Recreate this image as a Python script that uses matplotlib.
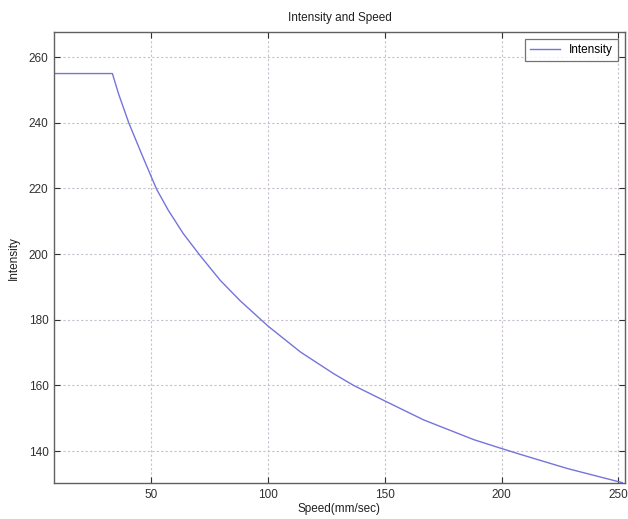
import matplotlib
matplotlib.use("Agg")
import matplotlib.pyplot as plt

plt.rcParams['font.family'] = ['Liberation Sans', 'DejaVu Sans']

# Data
speed = [8.4, 33.4, 36.0, 40.4, 45.8, 49.9, 52.3, 57.3, 63.7, 70.9, 79.6, 88.1,
         100.0, 113.9, 128.1, 136.7, 150.0, 166.7, 188.1, 200.0, 208.1, 228.2, 251.7]
intensity = [255.0, 255.0, 248.9, 240.0, 230.7, 223.8, 219.8, 213.4, 206.3, 199.6, 192.0, 185.8,
             178.1, 170.2, 163.6, 160.0, 155.3, 149.5, 143.5, 140.8, 139.0, 134.7, 130.4]

xticks = [50, 100, 150, 200, 250]
yticks = [140, 160, 180, 200, 220, 240, 260]

fig = plt.figure(figsize=(6.28, 5.19), dpi=100)
ax = fig.add_axes([0.086, 0.0694, 0.909, 0.8686])

ax.plot(speed, intensity, color='#7474dc', linewidth=1.0, label='Intensity')

ax.set_xlim(8.4, 252.8)
ax.set_ylim(130.3, 267.6)
ax.set_xticks(xticks)
ax.set_yticks(yticks)
ax.grid(True, linestyle=(0, (2, 2)), color='#c8c0cc', linewidth=0.8)
ax.tick_params(direction='in', length=4, top=True, right=True, labelsize=8.5,
               colors='#303030', pad=4)
for s in ax.spines.values():
    s.set_color('#606060')
    s.set_linewidth(1.0)

ax.set_title('Intensity and Speed', fontsize=8.5, pad=8, color='#202020')
ax.set_xlabel('Speed(mm/sec)', fontsize=8.5, labelpad=2, color='#202020')
ax.set_ylabel('Intensity', fontsize=8.5, labelpad=6, color='#202020')

leg = ax.legend(loc='upper right', fontsize=8.5, frameon=True, fancybox=False,
                edgecolor='#505050', borderaxespad=0.6, handlelength=2.5,
                borderpad=0.4)
leg.get_frame().set_linewidth(0.9)

fig.savefig('out.png', dpi=100, facecolor='white')
